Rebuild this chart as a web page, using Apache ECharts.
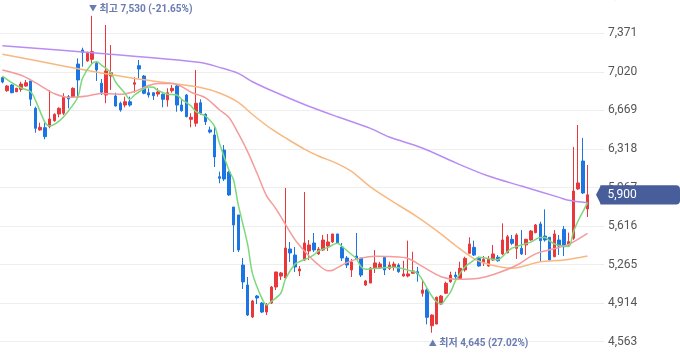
<!DOCTYPE html>
<html><head><meta charset="utf-8">
<script src="https://cdn.jsdelivr.net/npm/echarts@6/dist/echarts.min.js"></script>
<style>html,body{margin:0;padding:0;background:#fff}#c{width:680px;height:358px}</style>
</head><body><div id="c"></div><script>
// ---- data ----
const opens = [6967,6848,6900,6839,6861,6891,6937,6688,6491,6512, 6521,6575,6636,6643,6794,6794,7091,7219,7119,7134, 7098,6916,6809,6982,6800,6734,6718,6748,6907,7076, 6982,6830,6830,6818,6816,6764,6848,6891,6718,6809, 6588,6552,6739,6633,6491,6445,6065,6308,6108,5789, 5717,5261,5079,4788,4979,4915,4833,4915,5061,5161, 5143,5407,5352,5207,5307,5389,5462,5362,5398,5434, 5471,5544,5425,5325,5216,5343,5325,5079,5097,5234, 5234,5332,5231,5240,5261,5161,5161,5186,5200,5004, 5034,4709,4724,4906,5004,5109,5170,5140,5216,5368, 5422,5322,5282,5252,5307,5332,5362,5373,5495,5413, 5413,5444,5489,5556,5635,5525,5514,5337,5489,5586, 5453,5505,5954,6208,5771];
const closes = [6927,6891,6830,6870,6909,6921,6770,6506,6515,6430, 6591,6633,6688,6794,6773,6870,6946,7198,7189,7204, 7037,6834,7028,7012,6709,6673,6748,6718,6921,7046, 6825,6809,6803,6837,6770,6830,6870,6718,6666,6612, 6606,6734,6643,6566,6472,6245,6051,6044,5899,5626, 5398,5107,4806,4934,4961,4833,4897,5061,5198,5189, 5416,5371,5243,5225,5462,5444,5398,5407,5489,5471, 5544,5462,5325,5261,5289,5316,5170,5116,5234,5280, 5271,5216,5261,5270,5200,5180,5180,5207,5180,5034, 4785,4806,4967,4979,5095,5170,5155,5231,5322,5453, 5352,5252,5313,5313,5362,5300,5489,5519,5459,5535, 5362,5495,5571,5626,5483,5489,5307,5544,5434,5428, 5474,5935,6008,5917,5900];
const lows = [6915,6839,6825,6835,6839,6885,6709,6466,6484,6406, 6506,6566,6606,6627,6688,6788,6794,7067,7112,7082, 6937,6809,6734,6855,6703,6657,6697,6703,6830,6961, 6816,6785,6764,6794,6697,6703,6830,6657,6657,6606, 6515,6521,6627,6536,6460,6154,6005,6026,5890,5380, 5380,5043,4797,4779,4906,4824,4806,4906,5034,5125, 5143,5289,5198,5161,5298,5307,5380,5353,5389,5389, 5462,5453,5298,5234,5152,5307,5152,5070,5097,5189, 5225,5170,5216,5210,5191,5155,5149,5180,5109,4973, 4721,4645,4721,4897,4997,5100,5131,5131,5200,5362, 5343,5246,5252,5246,5300,5292,5352,5368,5444,5316, 5352,5352,5483,5550,5292,5474,5298,5332,5352,5343, 5428,5490,5945,5908,5699];
const highs = [6975,6900,6909,6875,6930,6946,6940,6703,6557,6557, 6855,6643,6697,6825,6809,6879,7143,7240,7204,7530, 7112,6955,7447,7264,6830,6748,6794,6794,6970,7128, 6991,6870,6830,6870,6825,6870,6900,6900,6764,6818, 6643,7037,6770,6643,6521,6527,6111,6354,6117,5789, 5717,5325,5152,4943,4988,4924,4915,5070,5198,5198, 5962,5471,5425,5252,5926,5489,5553,5425,5535,5544, 5544,5544,5462,5343,5316,5553,5325,5125,5243,5398, 5290,5337,5292,5292,5277,5300,5483,5382,5245,5125, 5049,4812,4973,4988,5109,5200,5200,5292,5337,5514, 5483,5337,5343,5343,5444,5352,5641,5535,5535,5550, 5580,5501,5580,5635,5656,5768,5514,5580,5535,5617, 5556,6336,6536,6418,6172];
// moving averages: [candle index, value]
const ma5 = [[0,6982],[2,6921],[4,6873],[6,6839],[7,6763],[9,6563],[10,6527],[12,6572],[14,6664],[16,6791],[17,6964],[19,7096],[20,7112],[21,7082],[23,7012],[24,6928],[26,6823],[27,6770],[28,6809],[29,6839],[31,6882],[32,6879],[33,6850],[35,6816],[37,6809],[38,6770],[40,6709],[41,6657],[43,6618],[45,6521],[46,6369],[48,6126],[49,6035],[50,5808],[52,5444],[53,5185],[55,4957],[56,4897],[57,4929],[59,5004],[60,5134],[62,5270],[63,5292],[65,5329],[66,5353],[67,5389],[69,5422],[71,5459],[72,5430],[74,5357],[75,5322],[76,5246],[77,5222],[80,5234],[83,5240],[86,5214],[88,5185],[89,5125],[91,4979],[92,4927],[93,4906],[94,4958],[95,5016],[96,5116],[97,5185],[98,5243],[100,5307],[101,5332],[104,5313],[105,5310],[107,5382],[108,5415],[110,5444],[112,5470],[114,5512],[115,5512],[116,5480],[117,5453],[118,5440],[120,5430],[121,5560],[122,5662],[123,5744],[124,5830]];
const ma20 = [[0,7037],[4,6989],[7,6922],[9,6870],[11,6822],[14,6787],[18,6800],[21,6824],[25,6815],[28,6841],[31,6895],[33,6914],[36,6914],[38,6886],[40,6834],[43,6786],[46,6675],[48,6606],[50,6459],[52,6292],[54,6094],[56,5891],[58,5773],[62,5493],[65,5343],[67,5262],[69,5209],[70,5214],[73,5283],[76,5324],[79,5341],[82,5338],[86,5321],[89,5248],[93,5155],[96,5132],[101,5141],[105,5188],[109,5259],[113,5363],[118,5421],[120,5448],[124,5550]];
const ma60 = [[0,7180],[7,7124],[14,7064],[21,7009],[28,6959],[35,6920],[42,6878],[46,6827],[50,6742],[53,6632],[57,6500],[60,6419],[64,6317],[67,6254],[71,6185],[74,6113],[78,5972],[82,5858],[88,5698],[93,5543],[96,5439],[100,5318],[103,5268],[108,5232],[114,5291],[119,5307],[124,5343]];
const ma120 = [[0,7258],[21,7188],[42,7106],[46,7061],[50,7006],[53,6930],[57,6850],[64,6723],[71,6611],[78,6505],[82,6427],[89,6327],[96,6193],[103,6071],[110,5980],[118,5877],[120,5850],[124,5828]];
const yTickMin = 4212, yTickMax = 7722, yTickStep = 351;
const padSlots = 3;

const categories = closes.map((_, i) => 'D' + (i + 1)).concat(Array(padSlots).fill(''));
const candleData = closes.map((c, i) => [opens[i], c, lows[i], highs[i]]);

const UP = '#e8383b', DOWN = '#1b76e3';
const fmt = v => v.toLocaleString('en-US');
const last = closes[closes.length - 1];
const hi = Math.max(...highs), hiIdx = highs.indexOf(hi);
const lo = Math.min(...lows), loIdx = lows.indexOf(lo);
const pct = v => ((last / v - 1) * 100).toFixed(2);
const annoColor = '#6a7bb2';

const chart = echarts.init(document.getElementById('c'), null, {renderer: 'canvas'});
function maLine(name, data, color, w) {
  return {name, type: 'line', data, smooth: 0.3, showSymbol: false, symbol: 'none',
    lineStyle: {color, width: w}, z: 3, silent: true, animation: false};
}
chart.setOption({
  animation: false,
  grid: {left: 0, right: 76, top: -5.25, bottom: -22.25, containLabel: false, outerBoundsMode: 'none'},
  xAxis: {type: 'category', data: categories, boundaryGap: true, show: false},
  yAxis: {type: 'value', position: 'right', min: yTickMin, max: yTickMax, interval: yTickStep,
    axisLine: {show: false}, axisTick: {show: false},
    splitLine: {lineStyle: {color: '#eeeeee', width: 1}},
    axisLabel: {color: '#555', fontSize: 12, margin: 4, fontFamily: 'Roboto, "Noto Sans", sans-serif', formatter: fmt}},
  series: [
    {type: 'candlestick', data: candleData, barWidth: 3, z: 2,
      itemStyle: {color: UP, color0: DOWN, borderColor: UP, borderColor0: DOWN, borderWidth: 1},
      markPoint: {symbol: 'circle', symbolSize: 0, silent: true, itemStyle: {color: 'rgba(0,0,0,0)'},
        label: {show: true, color: annoColor, fontSize: 10, fontWeight: 'bold', align: 'left', verticalAlign: 'middle',
          fontFamily: 'Roboto, "Noto Sans CJK KR", sans-serif', rich: {a: {fontSize: 8, color: annoColor}}},
        data: [
          {coord: [hiIdx, hi], label: {position: [-3, -6.5], formatter: '{a|▼} 최고 ' + fmt(hi) + ' (' + pct(hi) + '%)'}},
          {coord: [loIdx, lo], label: {position: [-3, 11.3], formatter: '{a|▲} 최저 ' + fmt(lo) + ' (' + pct(lo) + '%)'}}
        ]}},
    maLine('MA120', ma120, '#b98cf4', 1.5),
    maLine('MA60', ma60, '#f8b880', 1.5),
    maLine('MA20', ma20, '#f49b9b', 1.5),
    maLine('MA5', ma5, '#7dd87d', 1.5)
  ]
});
const yc = chart.convertToPixel({yAxisIndex: 0}, last);
chart.setOption({graphic: [
  {type: 'polygon', z: 100, shape: {points: [[596, yc], [601, yc - 9.7], [601, yc + 9.7]]}, style: {fill: '#485e9b'}},
  {type: 'rect', z: 100, shape: {x: 600.5, y: yc - 9.7, width: 79.5, height: 19.4, r: [0, 4, 4, 0]}, style: {fill: '#485e9b'}},
  {type: 'text', z: 101, x: 607.5, y: yc, style: {text: fmt(last), fill: '#fff', font: '12px Roboto, sans-serif', verticalAlign: 'middle'}}
]});
</script></body></html>
